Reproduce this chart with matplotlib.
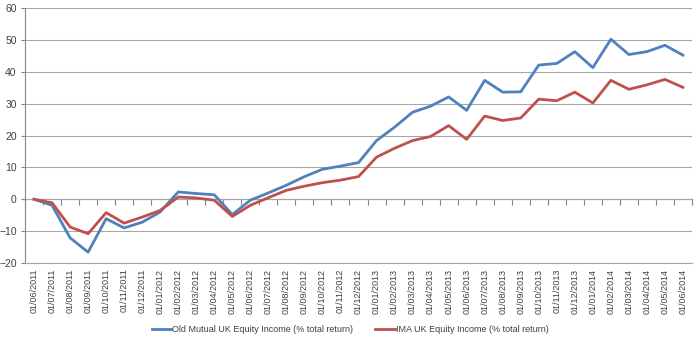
import matplotlib.pyplot as plt

plt.rcParams["font.family"] = ["Liberation Sans", "DejaVu Sans"]

dates = [
    "01/06/2011", "01/07/2011", "01/08/2011", "01/09/2011", "01/10/2011", "01/11/2011",
    "01/12/2011", "01/01/2012", "01/02/2012", "01/03/2012", "01/04/2012", "01/05/2012",
    "01/06/2012", "01/07/2012", "01/08/2012", "01/09/2012", "01/10/2012", "01/11/2012",
    "01/12/2012", "01/01/2013", "01/02/2013", "01/03/2013", "01/04/2013", "01/05/2013",
    "01/06/2013", "01/07/2013", "01/08/2013", "01/09/2013", "01/10/2013", "01/11/2013",
    "01/12/2013", "01/01/2014", "01/02/2014", "01/03/2014", "01/04/2014", "01/05/2014",
    "01/06/2014",
]

old_mutual = [
    0.0, -1.9, -12.1, -16.6, -6.1, -9.0, -7.2, -4.0, 2.3, 1.8, 1.4, -4.8,
    -0.3, 2.0, 4.4, 7.1, 9.4, 10.4, 11.5, 18.4, 22.6, 27.3, 29.2, 32.1,
    27.9, 37.3, 33.6, 33.7, 42.1, 42.6, 46.3, 41.3, 50.2, 45.4, 46.3, 48.3,
    45.2,
]

ima = [
    0.0, -1.1, -8.7, -10.8, -4.2, -7.5, -5.6, -3.5, 0.7, 0.4, -0.3, -5.4,
    -1.9, 0.5, 2.8, 4.1, 5.2, 6.0, 7.1, 13.2, 16.0, 18.4, 19.7, 23.1,
    18.8, 26.1, 24.7, 25.5, 31.4, 30.9, 33.6, 30.2, 37.3, 34.5, 35.9, 37.6,
    35.1,
]

labels = [
    "Old Mutual UK Equity Income (% total return)",
    "IMA UK Equity Income (% total return)",
]

grid_col = "#a6a6a6"
axis_col = "#868686"

fig = plt.figure(figsize=(7, 3.44), dpi=100)
ax = fig.add_axes([25 / 700, 81 / 344, 667 / 700, 255 / 344])

x = list(range(len(dates)))
ax.plot(x, old_mutual, color="#4f81bd", lw=2.0, label=labels[0])
ax.plot(x, ima, color="#c0504d", lw=2.0, label=labels[1])

ax.set_xlim(-0.5, len(dates) - 0.5)
ax.set_ylim(-20, 60)
ax.set_yticks(range(-20, 61, 10))
ax.grid(axis="y", color=grid_col, lw=0.8)
ax.set_axisbelow(True)

for side in ["top", "right"]:
    ax.spines[side].set_visible(False)
ax.spines["left"].set_color(axis_col)
ax.spines["bottom"].set_color(grid_col)
ax.spines["left"].set_linewidth(0.8)
ax.spines["bottom"].set_linewidth(0.8)

ax.tick_params(axis="y", labelsize=7.5, colors="#404040", length=3, color=axis_col, pad=3)
ax.set_xticks(x)
ax.set_xticklabels(dates, rotation=90, fontsize=6.5, color="#404040")
ax.tick_params(axis="x", length=0, pad=4)

# category axis crossing at zero with tick marks between categories
zero_ax = ax.secondary_xaxis(0.25)
zero_ax.set_xticks([i - 0.5 for i in range(len(dates) + 1)])
zero_ax.set_xticklabels([])
zero_ax.tick_params(axis="x", direction="out", length=4, color=axis_col, width=0.8)
zero_ax.spines["bottom"].set_color(axis_col)
zero_ax.spines["bottom"].set_linewidth(0.8)

fig.legend(
    loc="center", bbox_to_anchor=(0.5, 14 / 344), ncol=2, frameon=False,
    fontsize=6.5, handlelength=2.2, columnspacing=2.5, handletextpad=0.05,
)
for t in fig.legends[0].get_texts():
    t.set_color("#404040")

fig.savefig("out.png", dpi=100)
